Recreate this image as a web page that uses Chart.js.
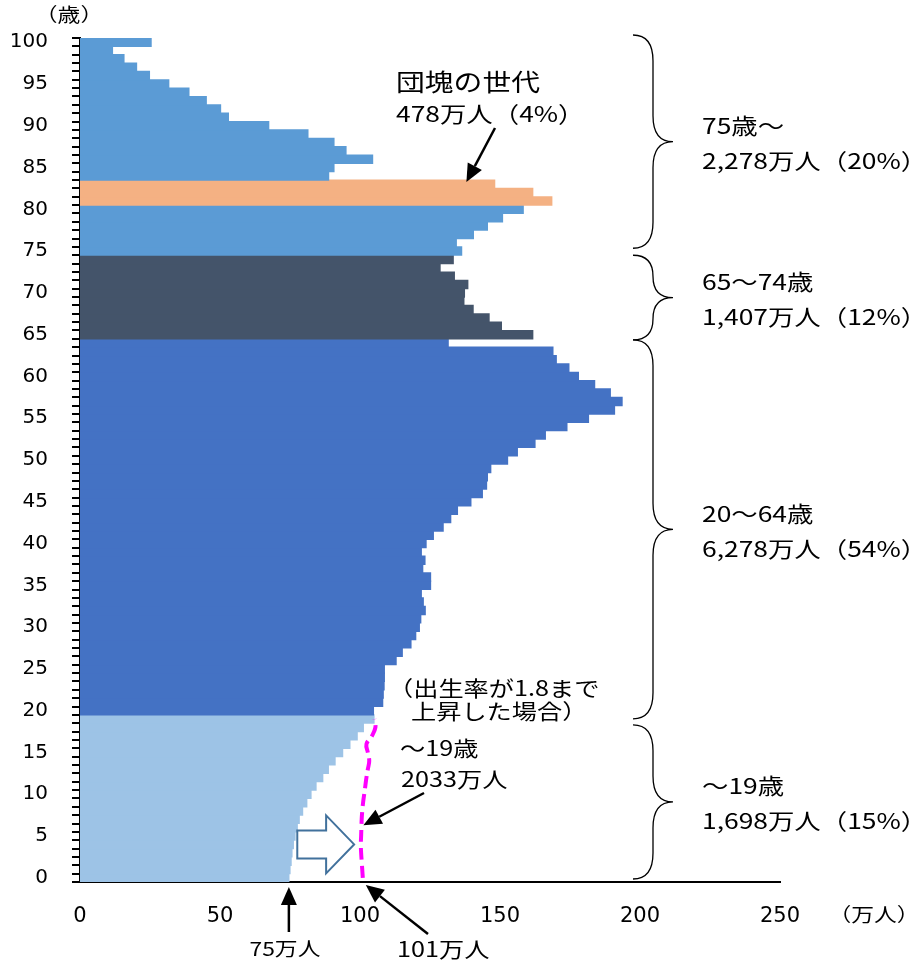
<!DOCTYPE html>
<html lang="ja">
<head>
<meta charset="UTF-8">
<title>年齢別人口</title>
<script src="https://cdn.jsdelivr.net/npm/chart.js@4.4.1/dist/chart.umd.min.js"></script>
<style>
  html, body { margin: 0; padding: 0; background: #fff; }
</style>
</head>
<body>
<canvas id="pyramidChart" width="916" height="962"></canvas>
<script>
// 年齢 (0〜100歳)
const ages = Array.from({ length: 101 }, (_, i) => i);

// 各歳の人口 (万人) 0歳 → 100歳
const population = [
    74.6, 75.0, 75.4, 75.7, 76.2, 76.8, 77.6, 78.3, 79.5, 81.0,
    82.5, 84.3, 86.7, 88.7, 91.1, 93.8, 96.4, 99.0, 101.2, 105.0,
    104.8, 108.1, 108.3, 108.6, 108.7, 108.7, 112.9, 115.1, 118.2, 119.9,
    121.2, 121.7, 123.3, 122.6, 121.9, 125.2, 125.2, 122.4, 123.2, 121.9,
    123.6, 126.2, 129.7, 132.4, 134.8, 139.6, 143.7, 145.2, 145.5, 146.7,
    152.7, 156.2, 162.5, 166.2, 173.9, 181.6, 190.9, 193.6, 189.4, 183.8,
    178.0, 174.6, 170.1, 168.9, 131.5, 161.7, 150.5, 146.1, 140.4, 137.1,
    137.3, 138.5, 133.7, 128.6, 133.3, 136.3, 134.4, 140.5, 145.5, 150.9,
    158.3, 168.5, 161.7, 148.1, 88.8, 90.7, 104.5, 95.0, 90.7, 81.4,
    67.4, 53.0, 50.2, 45.1, 38.9, 31.7, 24.8, 20.2, 15.7, 11.6,
    25.4
];

// 出生率が1.8まで上昇した場合の0〜19歳 (万人)
const scenario19 = [
    101.0, 100.8, 100.6, 100.4, 100.3, 100.4, 100.5, 100.6, 100.8, 101.1,
    101.5, 101.9, 102.3, 102.8, 103.3, 102.8, 102.3, 104.3, 105.5, 105.2
];

const xTicks = [0, 50, 100, 150, 200, 250];

// 年齢区分 [下限, 上限] と見出し
const groupRanges = [[75, 100], [65, 74], [20, 64], [0, 19]];
const groupTitles = ['75歳～', '65～74歳', '20～64歳', '～19歳'];
const groupTotals = ['2,278万人（20%）', '1,407万人（12%）', '6,278万人（54%）', '1,698万人（15%）'];

const FONT = '"Noto Sans CJK JP", "Noto Sans", sans-serif';
const NUM_FONT = '"DejaVu Sans", sans-serif';
const STRETCH = 1.2; // 元図は横に少し伸びている

function barColor(age) {
    if (age <= 19) return '#9DC3E6';
    if (age <= 64) return '#4472C4';
    if (age <= 74) return '#44546A';
    if (age >= 81 && age <= 83) return '#F4B183';
    return '#5B9BD5';
}

function drawArrow(ctx, x1, y1, x2, y2) {
    const ang = Math.atan2(y2 - y1, x2 - x1);
    const head = 18, half = 8;
    const bx = x2 - head * Math.cos(ang);
    const by = y2 - head * Math.sin(ang);
    ctx.beginPath();
    ctx.moveTo(x1, y1);
    ctx.lineTo(bx, by);
    ctx.lineWidth = 2.5;
    ctx.strokeStyle = '#000';
    ctx.stroke();
    ctx.beginPath();
    ctx.moveTo(x2, y2);
    ctx.lineTo(bx + half * Math.sin(ang), by - half * Math.cos(ang));
    ctx.lineTo(bx - half * Math.sin(ang), by + half * Math.cos(ang));
    ctx.closePath();
    ctx.fillStyle = '#000';
    ctx.fill();
}

function drawBrace(ctx, x0, top, bottom) {
    const mid = (top + bottom) / 2;
    const w = 20;
    const r = Math.min(26, (mid - top) / 2);
    ctx.beginPath();
    ctx.moveTo(x0, top);
    ctx.quadraticCurveTo(x0 + w, top, x0 + w, top + r);
    ctx.lineTo(x0 + w, mid - r);
    ctx.quadraticCurveTo(x0 + w, mid, x0 + 2 * w, mid);
    ctx.quadraticCurveTo(x0 + w, mid, x0 + w, mid + r);
    ctx.lineTo(x0 + w, bottom - r);
    ctx.quadraticCurveTo(x0 + w, bottom, x0, bottom);
    ctx.lineWidth = 1.3;
    ctx.strokeStyle = '#000';
    ctx.stroke();
    return mid;
}

function text(ctx, str, x, y, size, align) {
    ctx.save();
    ctx.translate(x, y);
    ctx.scale(STRETCH, 1);
    ctx.font = size + 'px ' + FONT;
    ctx.textAlign = align || 'left';
    ctx.textBaseline = 'middle';
    ctx.fillStyle = '#000';
    ctx.fillText(str, 0, 0);
    ctx.restore();
}

// 括弧の上下の微調整 (px)
const braceInsets = [[-3, -7], [0, 1], [1, 4], [10, -3]];

// 注記 (括弧・矢印・文字)
const notesPlugin = {
    id: 'notes',
    afterDraw(chart) {
        const { ctx, scales: { x, y } } = chart;
        const rowH = Math.abs(y.getPixelForValue(0) - y.getPixelForValue(1));
        const topEdge = a => y.getPixelForValue(a) - rowH / 2;
        const bottomEdge = a => y.getPixelForValue(a) + rowH / 2;
        ctx.save();

        // 軸の単位
        text(ctx, '（歳）', 69, 15, 19, 'center');
        text(ctx, '（万人）', 874, 915, 19, 'center');

        // 右側の括弧と区分ごとの人数
        const braceX = x.getPixelForValue(197.5);
        groupRanges.forEach((g, i) => {
            const top = topEdge(g[1]) + braceInsets[i][0];
            const bottom = bottomEdge(g[0]) + braceInsets[i][1];
            const mid = drawBrace(ctx, braceX, top, bottom);
            text(ctx, groupTitles[i], 702, mid - 16, 22);
            text(ctx, groupTotals[i], 702, mid + 19, 22);
        });

        // 団塊の世代
        text(ctx, '団塊の世代', 396, 82, 24);
        text(ctx, '478万人（4%）', 396, 114, 22);
        drawArrow(ctx, 495, 128, x.getPixelForValue(138), topEdge(83) + 2);

        // 出生率上昇のケース
        text(ctx, '（出生率が1.8まで', 388, 688, 21);
        text(ctx, '上昇した場合）', 411, 711, 21);
        text(ctx, '～19歳', 400, 748, 21);
        text(ctx, '2033万人', 401, 779, 21);
        drawArrow(ctx, 424, 793, x.getPixelForValue(101.2), y.getPixelForValue(6.3));

        // 0歳の人数
        const base = bottomEdge(0);
        drawArrow(ctx, x.getPixelForValue(population[0]), base + 50, x.getPixelForValue(population[0]), base + 5);
        text(ctx, '75万人', 285, 949, 19, 'center');
        drawArrow(ctx, 428, 934, x.getPixelForValue(scenario19[0]) + 3, base + 3);
        text(ctx, '101万人', 397, 949, 21);

        // 白抜き矢印
        const cy = y.getPixelForValue(4);
        const x0 = x.getPixelForValue(77.6), x1 = x.getPixelForValue(87.9), x2 = x.getPixelForValue(97.9);
        ctx.beginPath();
        ctx.moveTo(x0, cy - 14);
        ctx.lineTo(x1, cy - 14);
        ctx.lineTo(x1, cy - 29);
        ctx.lineTo(x2, cy);
        ctx.lineTo(x1, cy + 29);
        ctx.lineTo(x1, cy + 14);
        ctx.lineTo(x0, cy + 14);
        ctx.closePath();
        ctx.fillStyle = '#fff';
        ctx.fill();
        ctx.lineWidth = 2;
        ctx.strokeStyle = '#41719C';
        ctx.stroke();

        ctx.restore();
    }
};

const ctx = document.getElementById('pyramidChart').getContext('2d');
const pyramidChart = new Chart(ctx, {
    type: 'bar',
    data: {
        labels: ages,
        datasets: [{
            type: 'line',
            indexAxis: 'y',
            data: ages.map(a => (a < scenario19.length ? scenario19[a] : null)),
            borderColor: '#FF00FF',
            borderWidth: 4,
            borderDash: [12, 6],
            pointRadius: 0,
            tension: 0.4,
            fill: false,
            order: 0
        }, {
            data: population,
            backgroundColor: ages.map(barColor),
            borderWidth: 0,
            inflateAmount: 0.6,
            barPercentage: 1,
            categoryPercentage: 1,
            order: 1
        }]
    },
    options: {
        indexAxis: 'y',
        responsive: false,
        animation: false,
        layout: {
            padding: { top: 38, right: 136, left: 0, bottom: 0 }
        },
        scales: {
            x: {
                type: 'linear',
                min: 0,
                max: 250,
                afterBuildTicks: scale => {
                    scale.ticks = xTicks.map(v => ({ value: v }));
                },
                afterFit: scale => { scale.height = 80; },
                grid: { display: false, drawTicks: false },
                border: { color: '#000', width: 2 },
                ticks: {
                    padding: 22,
                    color: '#000',
                    font: { size: 21, family: NUM_FONT }
                }
            },
            y: {
                type: 'category',
                reverse: true,
                offset: true,
                afterFit: scale => { scale.width = 80; },
                grid: {
                    display: true,
                    offset: true,
                    drawOnChartArea: false,
                    tickLength: 8,
                    color: '#000',
                    lineWidth: 2
                },
                border: { color: '#000', width: 2 },
                ticks: {
                    autoSkip: false,
                    padding: 24,
                    color: '#000',
                    font: { size: 20, family: NUM_FONT },
                    callback: (value, index) => (ages[index] % 5 === 0 ? String(ages[index]) : '')
                }
            }
        },
        plugins: {
            legend: { display: false },
            tooltip: { enabled: false }
        }
    },
    plugins: [notesPlugin]
});
</script>
</body>
</html>
